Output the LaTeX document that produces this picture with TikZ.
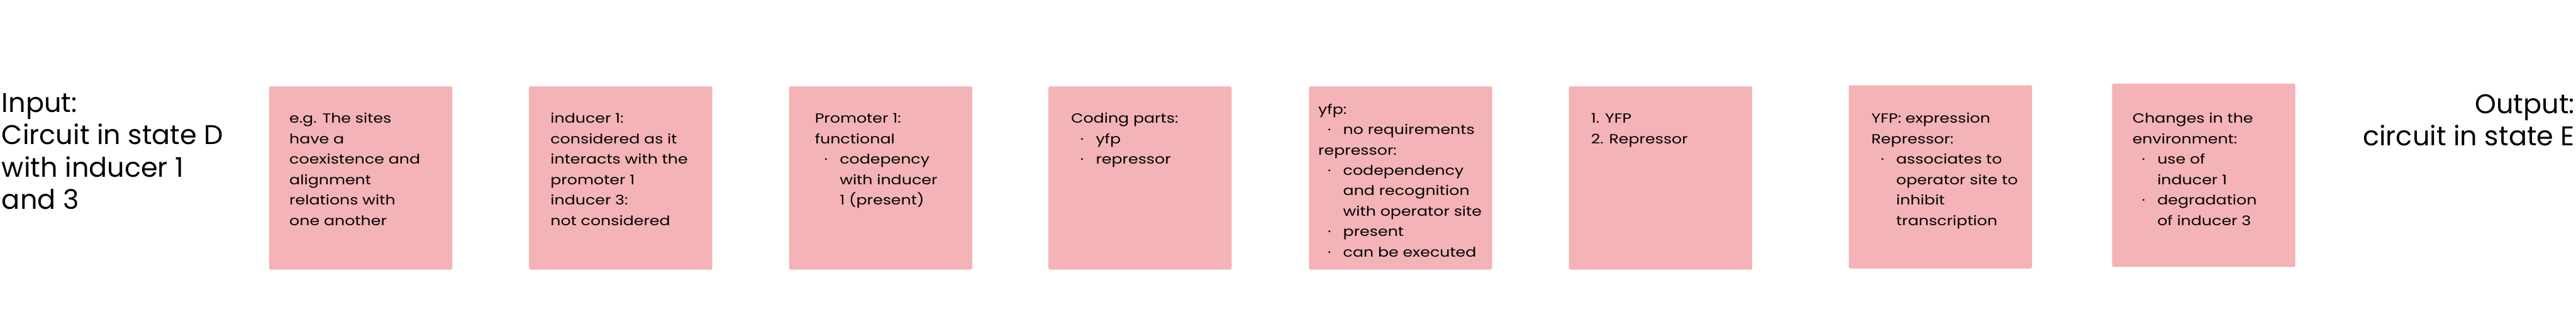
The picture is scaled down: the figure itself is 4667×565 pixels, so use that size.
\documentclass[tikz,border=0pt]{standalone}
\usepackage{fontspec}
\setmainfont{Poppins}
\newfontfamily\notefont{Poppins}[FakeStretch=1.2]
\definecolor{notepink}{HTML}{F4B3B6}
\newcommand{\itm}{\hspace*{8.5pt}\makebox[14pt][l]{\textperiodcentered}}
\newcommand{\cnt}{\hspace*{22.5pt}}

\begin{document}
\begin{tikzpicture}[x=0.5pt,y=-0.5pt,
   note/.style={fill=notepink,rounded corners=1.5pt,minimum width=166pt,
     minimum height=166pt,inner sep=0pt,anchor=north west},
   notetext/.style={inner sep=0pt,anchor=north west,align=left,
     font=\notefont\fontsize{12}{18.5}\selectfont},
   side/.style={inner sep=0pt,font=\fontsize{24.5}{29.25}\selectfont}]
   \useasboundingbox (0,0) rectangle (4667,565);
   % sticky notes
   \foreach \i/\x/\y in
     {1/487/156, 2/958/156, 3/1429/156, 4/1899/156,
      5/2371/156, 6/2842/156, 7/3349/154, 8/3826/151}
     \node[note] (s\i) at (\x,\y) {};
   % texts on the notes
   \node[notetext] (t1) at ([shift={(37,41)}]s1.north west)
     {\strut e.g. The sites\\have a\\coexistence and\\alignment\\relations with\\one another};
   \node[notetext] (t2) at ([shift={(39,41)}]s2.north west)
     {\strut inducer 1:\\considered as it\\interacts with the\\promoter 1\\inducer 3:\\not considered};
   \node[notetext] (t3) at ([shift={(47,41)}]s3.north west)
     {\strut Promoter 1:\\functional\\\itm codepency\\\cnt with inducer\\\cnt 1 (present)};
   \node[notetext] (t4) at ([shift={(41,41)}]s4.north west)
     {\strut Coding parts:\\\itm yfp\\\itm repressor};
   \node[notetext] (t5) at ([shift={(17,24)}]s5.north west)
     {\strut yfp:\\\itm no requirements\\repressor:\\\itm codependency\\\cnt and recognition\\\cnt with operator site\\\itm present\\\itm can be executed};
   \node[notetext] (t6) at ([shift={(40,41)}]s6.north west)
     {\strut 1. YFP\\2. Repressor};
   \node[notetext] (t7) at ([shift={(41,43)}]s7.north west)
     {\strut YFP: expression\\Repressor:\\\itm associates to\\\cnt operator site to\\\cnt inhibit\\\cnt transcription};
   \node[notetext] (t8) at ([shift={(37,46)}]s8.north west)
     {\strut Changes in the\\environment:\\\itm use of\\\cnt inducer 1\\\itm degradation\\\cnt of inducer 3};
   % input and output
   \node[side,anchor=north west,align=left] (in) at (3,162)
     {\strut Input:\\Circuit in state D\\with inducer 1\\and 3};
   \node[side,anchor=north east,align=right] (out) at (4665,164)
     {\strut Output:\\circuit in state E};
\end{tikzpicture}
\end{document}
